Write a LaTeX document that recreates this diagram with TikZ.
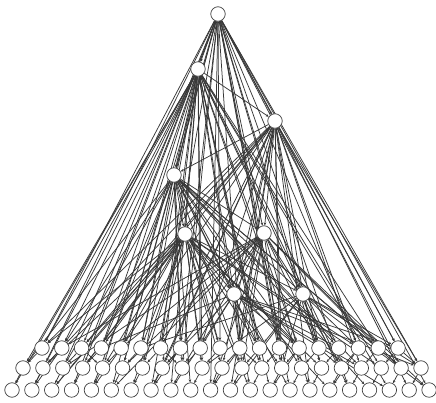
\documentclass[tikz,border=0pt]{standalone}
\usepackage{tikz}
\usetikzlibrary{arrows.meta, backgrounds}

\begin{document}
\begin{tikzpicture}[
    x=1pt, y=-1pt,
    vtx/.style={draw=black!75, circle, fill=white, minimum size=14.5pt, inner sep=0pt, line width=0.7pt},
    edge/.style={draw=black!78, line width=0.75pt, -{Stealth[length=3pt, width=2.6pt]}}
]
\useasboundingbox (0,0) rectangle (436,403);

% Hub nodes
\node[vtx] (root) at (218, 14) {};
\node[vtx] (h1) at (198, 69) {};
\node[vtx] (h2) at (275, 121) {};
\node[vtx] (h3) at (174, 175) {};
\node[vtx] (h4) at (185, 234) {};
\node[vtx] (h5) at (264, 233) {};
\node[vtx] (h6) at (234, 294) {};
\node[vtx] (h7) at (303, 294) {};

% Bottom rows
\foreach \i in {1,...,19}
    \node[vtx] (p\i) at ({42+19.78*(\i-1)}, 348) {};
\foreach \i in {1,...,21}
    \node[vtx] (q\i) at ({23+19.9*(\i-1)}, 368) {};
\foreach \i in {1,...,22}
    \node[vtx] (s\i) at ({12+19.86*(\i-1)}, 390) {};

\begin{scope}[on background layer]
% Root
\foreach \t in {h1,h2,h3,h5,p1,p3,p5,p8,p10,p13,p15,p17,p19,q2,q4,q6,q9,q12,q14,q16,q20,q21,s4,s8,s11,s15,s18,s22}
    \draw[edge] (root) -- (\t);
% Hub 1
\foreach \t in {h2,h3,h4,h6,h7,p1,p2,p4,p6,p7,p9,p11,p12,p14,p16,p18,q1,q3,q5,q7,q8,q10,q13,q15,q17,q19,s1,s2,s6,s9,s14,s20}
    \draw[edge] (h1) -- (\t);
% Hub 2
\foreach \t in {h3,h5,h6,h7,p1,p3,p5,p7,p9,p11,p13,p15,p17,p19,q2,q4,q8,q11,q14,q18,q21,s3,s8,s12,s16,s21}
    \draw[edge] (h2) -- (\t);
% Hub 3
\foreach \t in {h4,h5,h6,h7,p2,p4,p6,p8,p10,p12,p14,p16,p18,q1,q3,q6,q9,q12,q15,q18,q20,s5,s10,s15,s19}
    \draw[edge] (h3) -- (\t);
% Hub 4
\foreach \t in {h6,h7,p1,p3,p4,p5,p6,p7,p9,p10,p12,p14,p17,q2,q4,q5,q7,q10,q11,q14,q16,q19,s3,s7,s13,s17}
    \draw[edge] (h4) -- (\t);
% Hub 5
\foreach \t in {h6,h7,p2,p5,p8,p11,p13,p15,p18,q3,q6,q9,q12,q17,q20,s6,s11,s16,s22}
    \draw[edge] (h5) -- (\t);
% Hub 6
\foreach \t in {p4,p9,p11,p14,p16,p19,q8,q13,q18,q21,s9,s13,s20}
    \draw[edge] (h6) -- (\t);
% Hub 7
\foreach \t in {p6,p12,p15,p17,p19,q10,q14,q16,q21,s12,s18,s22}
    \draw[edge] (h7) -- (\t);

% Row to row
\foreach \i in {1,...,19}
    \draw[edge] (p\i) -- (q\i);
\foreach \i in {1,...,21}
    \draw[edge] (q\i) -- (s\i);
\foreach \i in {2,5,...,17}
    \draw[edge] (p\i) -- (s\i);
\foreach \i in {3,7,...,19}
    \draw[edge] (p\i) -- (q\the\numexpr\i+2\relax);
\end{scope}

\end{tikzpicture}
\end{document}
